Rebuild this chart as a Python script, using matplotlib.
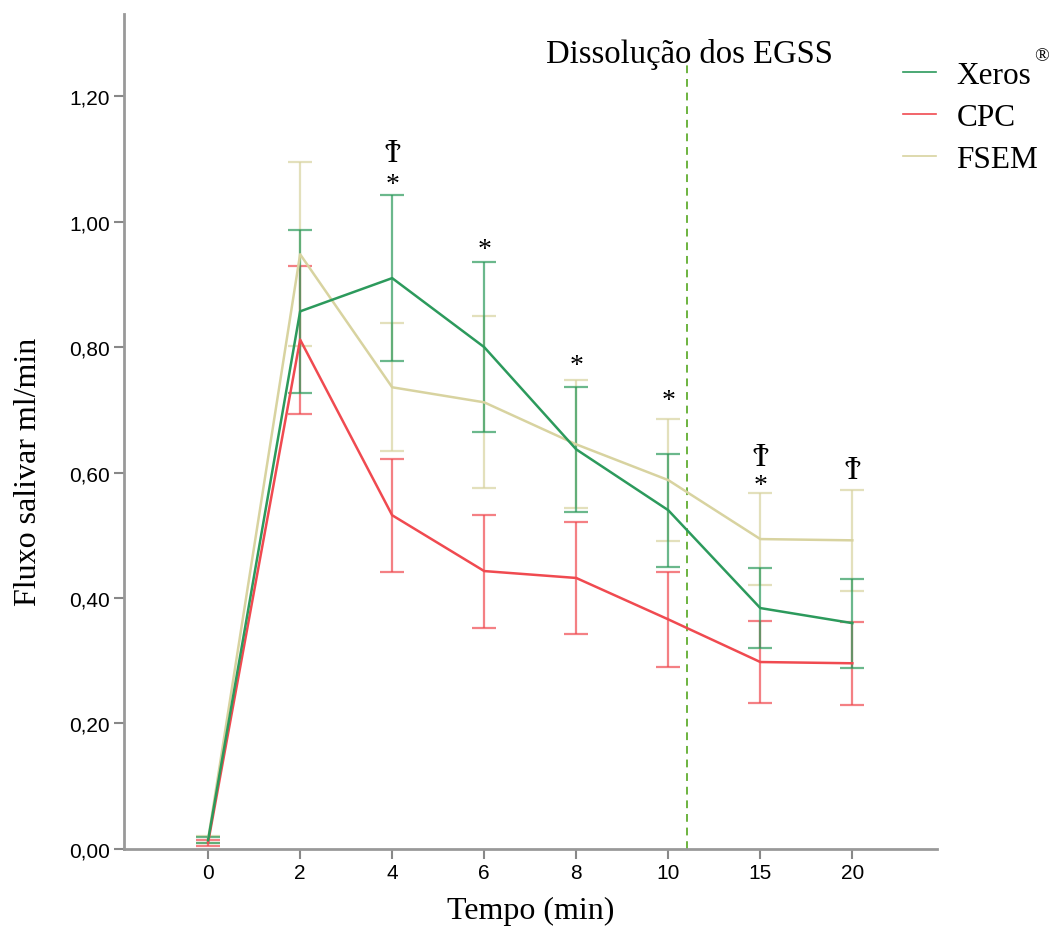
import matplotlib.pyplot as plt
import numpy as np

tempos = ['0', '2', '4', '6', '8', '10', '15', '20']

xeros = [0.014, 0.857, 0.910, 0.800, 0.637, 0.540, 0.384, 0.360]
xeros_err = [0.005, 0.130, 0.132, 0.135, 0.100, 0.090, 0.064, 0.071]

cpc = [0.010, 0.812, 0.532, 0.443, 0.432, 0.366, 0.298, 0.296]
cpc_err = [0.005, 0.118, 0.090, 0.090, 0.089, 0.076, 0.065, 0.066]

fsem = [0.015, 0.948, 0.736, 0.712, 0.645, 0.588, 0.494, 0.492]
fsem_err = [0.005, 0.147, 0.102, 0.137, 0.102, 0.097, 0.074, 0.080]

# marcas de significancia: (indice do tempo, simbolo, valor y)
marcas = [(2, 'Ϯ', 1.11), (2, '*', 1.06), (3, '*', 0.955), (4, '*', 0.77),
          (5, '*', 0.715), (6, 'Ϯ', 0.625), (6, '*', 0.58), (7, 'Ϯ', 0.605)]

serif = ['Liberation Serif', 'DejaVu Serif', 'DejaVu Sans']

fig = plt.figure(figsize=(10.54, 9.28), dpi=100)
ax = fig.add_axes([0.1177, 0.0841, 0.7713, 0.8997])

x = np.arange(len(tempos))
series = [
    ('FSEM', fsem, fsem_err, '#d8d3a0'),
    ('CPC', cpc, cpc_err, '#f04a50'),
    ('Xeros', xeros, xeros_err, '#2c9a5c'),
]
handles = {}
for nome, y, e, cor in series:
    ax.errorbar(x, y, yerr=e, fmt='none', ecolor=cor, elinewidth=1.6,
                capsize=8.5, capthick=1.6, alpha=0.7, zorder=2)
    linha, = ax.plot(x, y, color=cor, lw=1.8, zorder=3)
    handles[nome] = linha

ax.axvline(5.2, ymin=0, ymax=0.945, color='#6db33f', lw=1.4, ls=(0, (4, 3)))

for i, s, yv in marcas:
    tam = 24 if s == 'Ϯ' else 20
    ax.text(i, yv, s, ha='center', va='center', fontsize=tam, family=serif)

ax.set_xlim(-0.913, 7.92)
ax.set_ylim(0, 1.331)
ax.set_xticks(x)
ax.set_xticklabels(tempos)
yt = np.arange(0, 1.21, 0.2)
ax.set_yticks(yt)
ax.set_yticklabels([f'{v:.2f}'.replace('.', ',') for v in yt])
ax.tick_params(length=7, width=1.5, color='#888888', labelsize=15, pad=3)
for lab in ax.get_xticklabels() + ax.get_yticklabels():
    lab.set_family('Liberation Sans')

for s in ['top', 'right']:
    ax.spines[s].set_visible(False)
for s in ['left', 'bottom']:
    ax.spines[s].set_color('#999999')
    ax.spines[s].set_linewidth(2)

ax.set_xlabel('Tempo (min)', fontsize=23, family=serif, labelpad=10)
ax.set_ylabel('Fluxo salivar ml/min', fontsize=23, family=serif)
ax.yaxis.set_label_coords(-0.1, 0.453)

fig.text(689 / 1054, 1 - 55 / 928, 'Dissolução dos EGSS', ha='center',
         va='center', fontsize=23.5, family=serif)

leg = fig.legend([handles['Xeros'], handles['CPC'], handles['FSEM']],
                 ['Xeros', 'CPC', 'FSEM'], loc='upper left',
                 bbox_to_anchor=(875 / 1054, 1 - 34 / 928), frameon=False,
                 prop={'family': serif, 'size': 22.5}, handlelength=1.05,
                 labelspacing=0.42, handletextpad=0.65)
for h in leg.get_lines():
    h.set_linewidth(1.2)
fig.text(1042 / 1054, 1 - 57 / 928, '®', ha='center', va='center',
         fontsize=14, family=serif)

fig.savefig('out.png', dpi=100)
